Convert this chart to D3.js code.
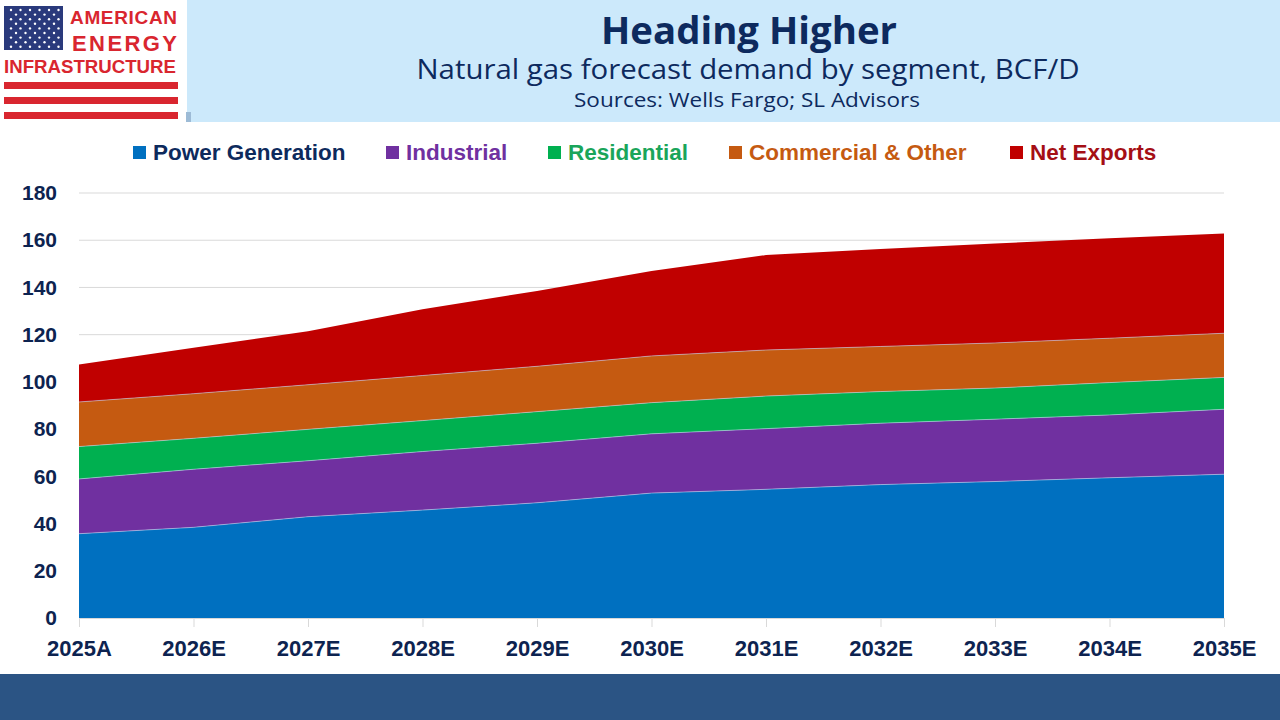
<!DOCTYPE html>
<html>
<head>
<meta charset="utf-8">
<script src="https://cdn.jsdelivr.net/npm/d3@7"></script>
<style>
  html, body { margin: 0; padding: 0; background: #fff; }
  svg { display: block; }
</style>
</head>
<body>
<svg id="chart" width="1280" height="720"></svg>
<script>
// ---- data ----
const categories = ["2025A","2026E","2027E","2028E","2029E","2030E","2031E","2032E","2033E","2034E","2035E"];
const seriesNames = ["Power Generation","Industrial","Residential","Commercial & Other","Net Exports"];
const powerGeneration = [35.7, 38.4, 42.9, 45.7, 48.8, 52.9, 54.5, 56.5, 57.8, 59.4, 60.9];
const industrial      = [23.2, 24.6, 23.7, 24.8, 25.2, 25.1, 25.7, 26.0, 26.4, 26.6, 27.5];
const residential     = [13.7, 13.1, 13.3, 13.1, 13.4, 13.2, 13.8, 13.4, 13.2, 13.7, 13.5];
const commercialOther = [18.9, 18.9, 18.9, 19.1, 19.2, 19.8, 19.5, 19.1, 19.1, 18.8, 18.7];
const netExports      = [15.9, 19.5, 22.7, 28.1, 31.9, 36.0, 40.2, 41.3, 42.1, 42.3, 42.3];
const yTicks = [0, 20, 40, 60, 80, 100, 120, 140, 160, 180];

const seriesColors = ["#0070C0", "#7030A0", "#00B050", "#C55A11", "#C00000"];
const legendTextColors = ["#0D2A5C", "#7030A0", "#1AA55A", "#C55A11", "#A50F15"];

// ---- build table ----
const seriesArrays = [powerGeneration, industrial, residential, commercialOther, netExports];
const table = categories.map((c, i) => {
  const row = { cat: c };
  seriesNames.forEach((s, k) => row[s] = seriesArrays[k][i]);
  return row;
});

const svg = d3.select("#chart");

// ---- header ----
svg.append("rect").attr("x", 187).attr("y", 0).attr("width", 1093).attr("height", 122).attr("fill", "#CCE9FB");
svg.append("rect").attr("x", 186).attr("y", 112).attr("width", 5).attr("height", 10).attr("fill", "#9DBBD6");

const hdrFont = "'Open Sans', Roboto, sans-serif";
svg.append("text").attr("x", 749).attr("y", 44).attr("text-anchor", "middle")
  .attr("font-family", hdrFont).attr("font-weight", 700).attr("font-size", 38)
  .attr("textLength", 296).attr("lengthAdjust", "spacingAndGlyphs")
  .attr("fill", "#0D2A5E").text("Heading Higher");
svg.append("text").attr("x", 748).attr("y", 79).attr("text-anchor", "middle")
  .attr("font-family", hdrFont).attr("font-weight", 400).attr("font-size", 27)
  .attr("textLength", 663).attr("lengthAdjust", "spacingAndGlyphs")
  .attr("fill", "#0D2A5E").text("Natural gas forecast demand by segment, BCF/D");
svg.append("text").attr("x", 747).attr("y", 107).attr("text-anchor", "middle")
  .attr("font-family", hdrFont).attr("font-weight", 400).attr("font-size", 20.5)
  .attr("textLength", 346).attr("lengthAdjust", "spacingAndGlyphs")
  .attr("fill", "#0D2A5E").text("Sources: Wells Fargo; SL Advisors");

// ---- logo ----
const logo = svg.append("g");
logo.append("rect").attr("x", 4).attr("y", 6).attr("width", 59).attr("height", 44).attr("fill", "#2A3A7C");
for (let r = 0; r < 9; r++) {
  const n = r % 2 === 0 ? 6 : 5;
  const off = r % 2 === 0 ? 9 : 14;
  for (let c = 0; c < n; c++) {
    logo.append("circle").attr("cx", 4 + off + c * 9.5 - 2).attr("cy", 10 + r * 4.6).attr("r", 1.2).attr("fill", "#fff");
  }
}
const logoRed = "#D9262F";
const logoFont = "'Liberation Sans', Arial, sans-serif";
logo.append("text").attr("x", 70).attr("y", 24).attr("font-family", logoFont)
  .attr("font-weight", 700).attr("font-size", 19).attr("fill", logoRed)
  .attr("textLength", 107).attr("lengthAdjust", "spacing").text("AMERICAN");
logo.append("text").attr("x", 72).attr("y", 51).attr("font-family", logoFont)
  .attr("font-weight", 700).attr("font-size", 22).attr("fill", logoRed)
  .attr("textLength", 105).attr("lengthAdjust", "spacing").text("ENERGY");
logo.append("text").attr("x", 4).attr("y", 73).attr("font-family", logoFont)
  .attr("font-weight", 700).attr("font-size", 18).attr("fill", logoRed)
  .attr("textLength", 172).attr("lengthAdjust", "spacingAndGlyphs").text("INFRASTRUCTURE");
[82, 97, 112].forEach(y => logo.append("rect").attr("x", 4).attr("y", y).attr("width", 174).attr("height", 7).attr("fill", logoRed));

// ---- legend ----
const legendItems = [
  { sq: 133, tx: 153 },
  { sq: 386, tx: 406 },
  { sq: 548, tx: 568 },
  { sq: 729, tx: 749 },
  { sq: 1010, tx: 1030 }
];
const lg = svg.append("g");
seriesNames.forEach((s, k) => {
  lg.append("rect").attr("x", legendItems[k].sq).attr("y", 146).attr("width", 13).attr("height", 13).attr("fill", seriesColors[k]);
  lg.append("text").attr("x", legendItems[k].tx).attr("y", 160)
    .attr("font-family", "'Liberation Sans', Arial, sans-serif").attr("font-weight", 700).attr("font-size", 22.5)
    .attr("fill", legendTextColors[k]).text(s);
});

// ---- chart ----
const x = d3.scalePoint().domain(categories).range([79, 1224]);
const y = d3.scaleLinear().domain([0, 180]).range([618, 193]);

// gridlines
svg.append("g").selectAll("line").data(yTicks.filter(t => t > 0)).join("line")
  .attr("x1", 79).attr("x2", 1224).attr("y1", d => y(d)).attr("y2", d => y(d))
  .attr("stroke", "#D9D9D9").attr("stroke-width", 1);

const stack = d3.stack().keys(seriesNames);
const stacked = stack(table);
const area = d3.area()
  .x(d => x(d.data.cat))
  .y0(d => y(d[0]))
  .y1(d => y(d[1]));

svg.append("g").selectAll("path").data(stacked).join("path")
  .attr("d", area)
  .attr("fill", (d, i) => seriesColors[i]);

// thin light separators between layers
const topLine = d3.line().x(d => x(d.data.cat)).y(d => y(d[1]));
svg.append("g").selectAll("path").data(stacked.slice(0, 4)).join("path")
  .attr("d", topLine).attr("fill", "none")
  .attr("stroke", "#BFD4EE").attr("stroke-opacity", 0.7).attr("stroke-width", 0.8);

// x axis
const xAxis = d3.axisBottom(x).tickSize(9).tickPadding(13);
const gx = svg.append("g").attr("transform", "translate(0,618)").call(xAxis);
gx.select(".domain").attr("stroke", "#D9D9D9");
gx.selectAll(".tick line").attr("stroke", "#D9D9D9");
gx.selectAll(".tick text").attr("font-family", "'Liberation Sans', Arial, sans-serif")
  .attr("font-weight", 700).attr("font-size", 22).attr("fill", "#0D2350");

// y axis
const yAxis = d3.axisLeft(y).tickValues(yTicks).tickSize(0).tickPadding(0);
const gy = svg.append("g").attr("transform", "translate(57,0)").call(yAxis);
gy.select(".domain").remove();
gy.selectAll(".tick text").attr("font-family", "'Liberation Sans', Arial, sans-serif")
  .attr("font-weight", 700).attr("font-size", 21).attr("fill", "#0D2350");

// footer band
svg.append("rect").attr("x", 0).attr("y", 674).attr("width", 1280).attr("height", 46).attr("fill", "#2B5484");
</script>
</body>
</html>
